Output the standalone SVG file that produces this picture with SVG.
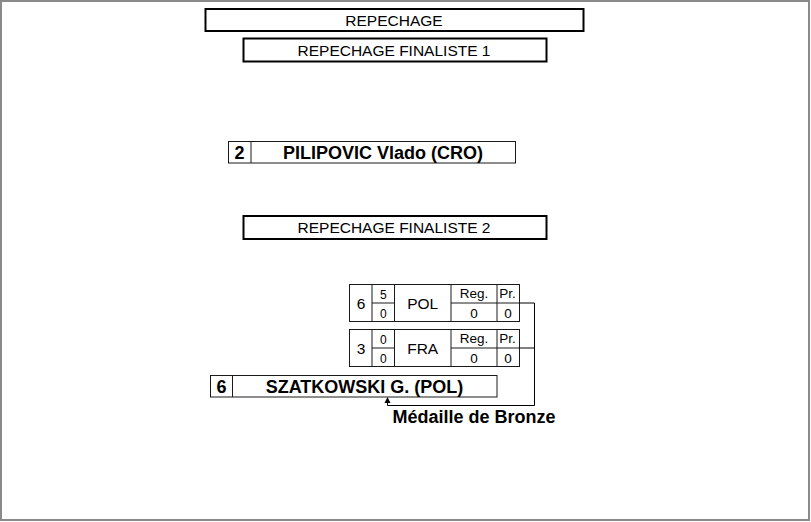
<svg xmlns="http://www.w3.org/2000/svg" width="811" height="522" viewBox="0 0 811 522">
<style>
  .frame { fill: #ffffff; stroke: #8a8a8a; stroke-width: 2; }
  .hdr { fill: #ffffff; stroke: #000000; stroke-width: 2; }
  .box { fill: #ffffff; stroke: #1a1a1a; stroke-width: 1; }
  .ln { stroke: #1a1a1a; stroke-width: 1; fill: none; }
  .conn { stroke: #000000; stroke-width: 1; fill: none; }
  .head { fill: #000000; }
  text { font-family: "Liberation Sans", Arial, sans-serif; fill: #000000; text-anchor: middle; }
  .h { font-size: 15.5px; }
  .nm { font-size: 18px; font-weight: bold; }
  .big { font-size: 15.5px; }
  .sm { font-size: 12px; }
  .md { font-size: 13.5px; }
</style>
<rect class="frame" x="1" y="1" width="808" height="519"/>

<g id="title">
  <rect class="hdr" x="205.5" y="9" width="378" height="22"/>
  <text class="h" x="394" y="26">REPECHAGE</text>
</g>
<g id="finaliste1">
  <rect class="hdr" x="243.5" y="38.5" width="303" height="23"/>
  <text class="h" x="394" y="55.5">REPECHAGE FINALISTE 1</text>
</g>
<g id="pilipovic">
  <rect class="box" x="228.5" y="141.5" width="287" height="21.5"/>
  <line class="ln" x1="251" y1="141.5" x2="251" y2="163"/>
  <text class="nm" x="239.5" y="159">2</text>
  <text class="nm" x="383" y="159">PILIPOVIC Vlado (CRO)</text>
</g>
<g id="finaliste2">
  <rect class="hdr" x="243.5" y="216" width="303" height="23"/>
  <text class="h" x="394" y="232.5">REPECHAGE FINALISTE 2</text>
</g>

<g id="match-pol">
  <rect class="box" x="349.5" y="284.5" width="170" height="37"/>
  <line class="ln" x1="372" y1="284.5" x2="372" y2="321.5"/>
  <line class="ln" x1="394.5" y1="284.5" x2="394.5" y2="321.5"/>
  <line class="ln" x1="451" y1="284.5" x2="451" y2="321.5"/>
  <line class="ln" x1="497" y1="284.5" x2="497" y2="321.5"/>
  <line class="ln" x1="372" y1="303" x2="394.5" y2="303"/>
  <line class="ln" x1="451" y1="303" x2="519.5" y2="303"/>
  <text class="big" x="361" y="309">6</text>
  <text class="sm" x="383.3" y="298.5">5</text>
  <text class="sm" x="383.3" y="317.5">0</text>
  <text class="big" x="422.7" y="309">POL</text>
  <text class="md" x="474" y="298">Reg.</text>
  <text class="md" x="507.5" y="298">Pr.</text>
  <text class="md" x="474" y="317.5">0</text>
  <text class="md" x="508" y="317.5">0</text>
</g>

<g id="match-fra">
  <rect class="box" x="349.5" y="329.5" width="170" height="37"/>
  <line class="ln" x1="372" y1="329.5" x2="372" y2="366.5"/>
  <line class="ln" x1="394.5" y1="329.5" x2="394.5" y2="366.5"/>
  <line class="ln" x1="451" y1="329.5" x2="451" y2="366.5"/>
  <line class="ln" x1="497" y1="329.5" x2="497" y2="366.5"/>
  <line class="ln" x1="372" y1="348" x2="394.5" y2="348"/>
  <line class="ln" x1="451" y1="348" x2="519.5" y2="348"/>
  <text class="big" x="361" y="354">3</text>
  <text class="sm" x="383.3" y="343.5">0</text>
  <text class="sm" x="383.3" y="362.5">0</text>
  <text class="big" x="422.7" y="354">FRA</text>
  <text class="md" x="474" y="343">Reg.</text>
  <text class="md" x="507.5" y="343">Pr.</text>
  <text class="md" x="474" y="362.5">0</text>
  <text class="md" x="508" y="362.5">0</text>
</g>

<g id="szatkowski">
  <rect class="box" x="210.5" y="375.5" width="286.5" height="21.5"/>
  <line class="ln" x1="232.5" y1="375.5" x2="232.5" y2="397"/>
  <text class="nm" x="221.5" y="392.5">6</text>
  <text class="nm" x="364.5" y="392.5">SZATKOWSKI G. (POL)</text>
</g>

<g id="connectors">
  <path class="conn" d="M519.5,303 H534.5 V405.5 H387.5 V401"/>
  <path class="conn" d="M519.5,348 H534.5"/>
  <path class="head" d="M387.5,397 L384.5,403 L390.5,403 Z"/>
</g>

<g id="label-bronze">
  <text class="nm" x="474" y="423">Médaille de Bronze</text>
</g>
</svg>
